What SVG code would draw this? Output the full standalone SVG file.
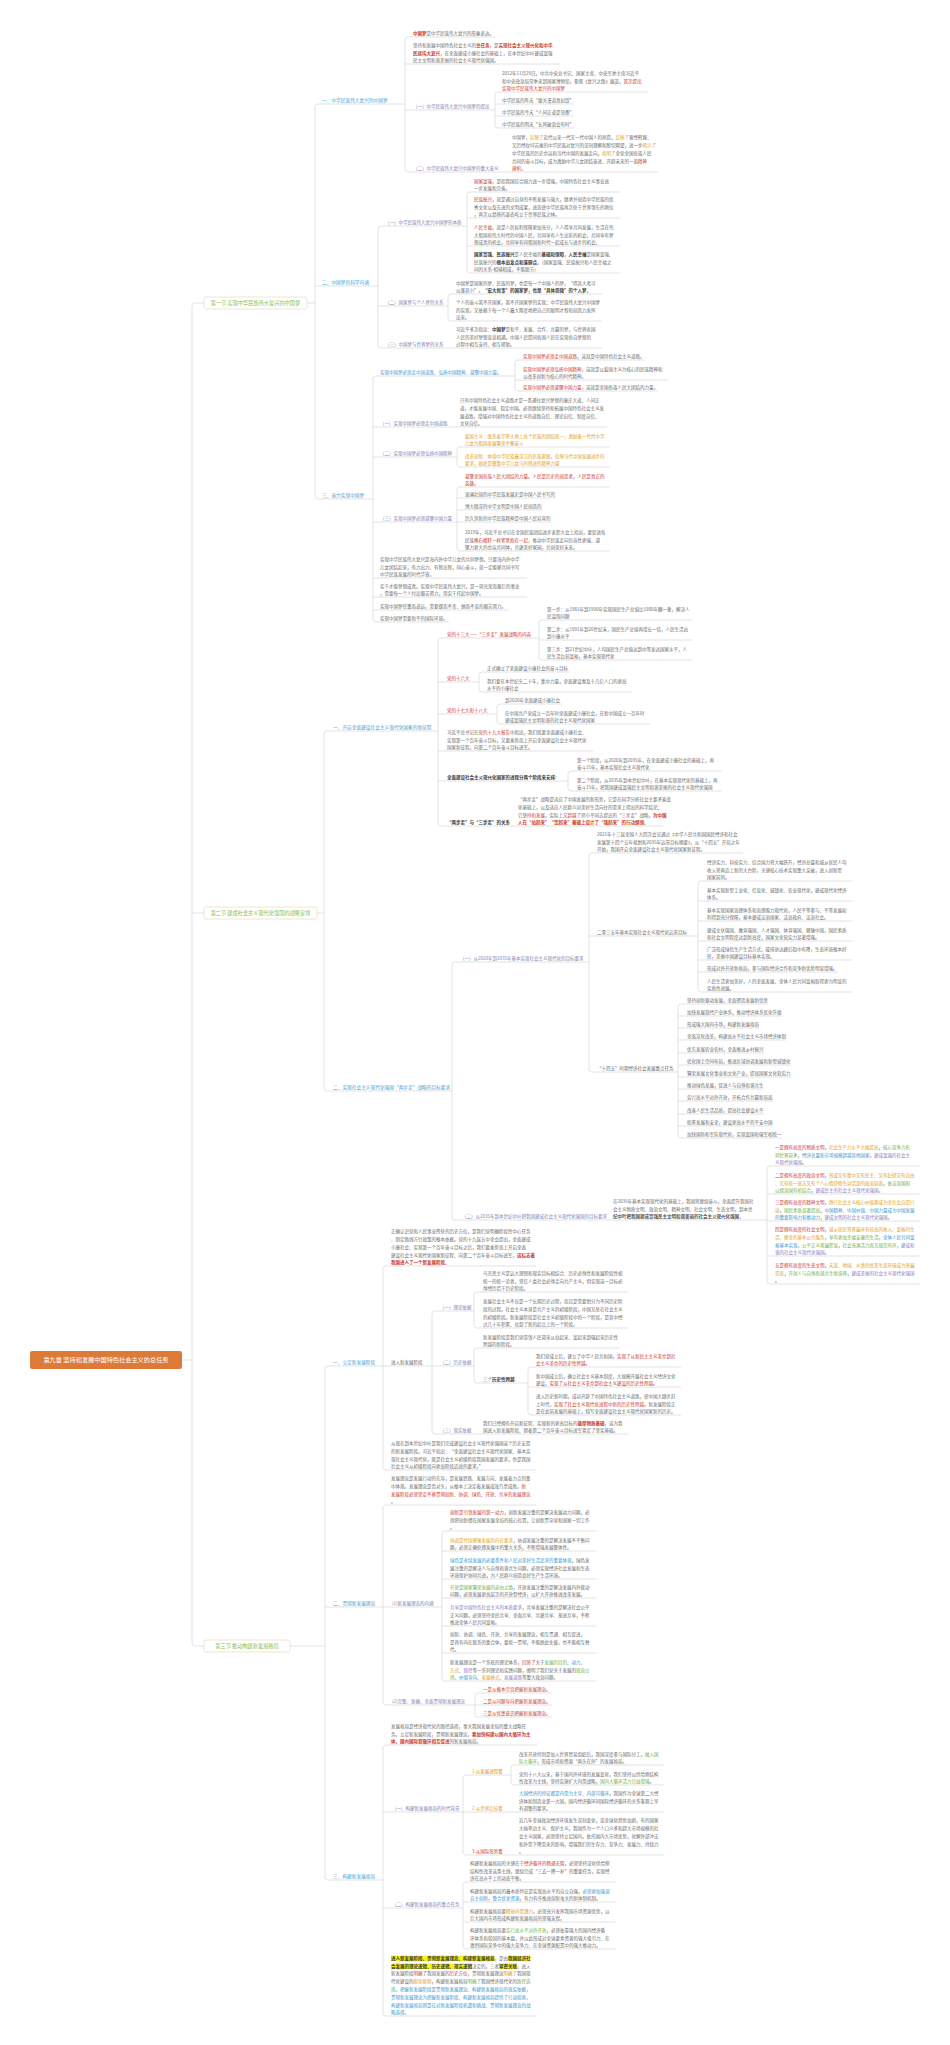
<svg xmlns="http://www.w3.org/2000/svg" width="950" height="2045" viewBox="0 0 950 2045">
<style>
text{font-family:"Noto Sans CJK SC","Noto Sans",sans-serif;font-size:4.5px;fill:#6b6b6b}
.s{fill:#3f9fd3;font-size:4.7px}
.u{fill:#7d7fb4}
.r{fill:#c9382c}
.rb{fill:#c9382c;font-weight:bold}
.b{fill:#3c3c3c;font-weight:bold}
.y{fill:#e2a01a}
.o{fill:#e98b22}
.g{fill:#6cb13f}
.bl{fill:#3598d0}
.p{fill:#8a7bbd}
.c{fill:none;stroke:#d2d2d2;stroke-width:0.6}
.box{fill:#fff;stroke:#eee0c2;stroke-width:0.8}
.bt{fill:#86bd48;font-size:5.2px}
.root{fill:#dd7a37}
.rt{fill:#fff;font-size:6.2px}
.hl{fill:#f6f21c}
</style>
<rect width="950" height="2045" fill="#fff"/>
<g id="connectors">
<path class="c" d="M182 1360H192M195 303Q192 303 192 306V1643Q192 1646 195 1646M195 303H204M192 913H204M195 1646H204"/>
<path class="c" d="M307 303H315M318 104Q315 104 315 107V496Q315 499 318 499M318 104H405M315 286H378M318 499H373"/>
<path class="c" d="M408 37Q405 37 405 40V169Q405 172 408 172M408 37H495M405 64H560M405 110H495M408 172H658"/>
<path class="c" d="M498 92Q495 92 495 95V125Q495 128 498 128M498 92H648M495 104H574M495 116H574M498 128H574"/>
<path class="c" d="M381 226Q378 226 378 229V345Q378 348 381 348M381 226H467M378 306H448M381 348H602"/>
<path class="c" d="M470 192Q467 192 467 195V270Q467 273 470 273M470 192H620M467 218H620M467 246H620M470 273H620"/>
<path class="c" d="M451 294Q448 294 448 297V318Q448 321 451 321M451 294H602M451 321H602"/>
<path class="c" d="M376 376Q373 376 373 379V619Q373 622 376 622M376 376H515M373 427H607M373 457H457M373 522H457M373 578H527M373 597H527M373 610H508M376 622H449"/>
<path class="c" d="M518 360Q515 360 515 363V388Q515 391 518 391M518 360H645M515 380H668M518 391H658"/>
<path class="c" d="M460 447Q457 447 457 450V464Q457 467 460 467M460 447H610M460 467H610"/>
<path class="c" d="M460 487Q457 487 457 490V548Q457 551 460 551M460 487H610M457 498H556M457 510H543M457 522H552M460 551H610"/>
<path class="c" d="M317 913H324M327 731Q324 731 324 734V1088Q324 1091 327 1091M327 731H438M327 1091H452"/>
<path class="c" d="M441 638Q438 638 438 641V823Q438 826 441 826M441 638H539M438 682H479M438 714H497M438 751H593M438 781H568M441 826H663"/>
<path class="c" d="M542 620Q539 620 539 623V657Q539 660 542 660M542 620H692M539 640H692M542 660H692"/>
<path class="c" d="M482 672Q479 672 479 675V689Q479 692 482 692M482 672H570M482 692H632"/>
<path class="c" d="M500 704Q497 704 497 707V721Q497 724 500 724M500 704H562M500 724H650"/>
<path class="c" d="M571 771Q568 771 568 774V788Q568 791 571 791M571 771H722M571 791H722"/>
<path class="c" d="M455 962Q452 962 452 965V1217Q452 1220 455 1220M455 962H589M455 1220H767"/>
<path class="c" d="M592 853Q589 853 589 856V1069Q589 1072 592 1072M592 853H743M589 936H698M592 1072H678"/>
<path class="c" d="M701 881Q698 881 698 884V989Q698 992 701 992M701 881H852M698 901H852M698 921H852M698 941H852M698 960H852M698 972H838M701 992H852"/>
<path class="c" d="M681 1004Q678 1004 678 1007V1135Q678 1138 681 1138M681 1004H768M678 1016H782M678 1028H759M678 1040H786M678 1053H764M678 1065H791M678 1077H791M678 1089H764M678 1101H773M678 1114H764M678 1126H773M681 1138H782"/>
<path class="c" d="M770 1166Q767 1166 767 1169V1281Q767 1284 770 1284M770 1166H920M767 1194H920M767 1221H920M767 1256H920M770 1284H920"/>
<path class="c" d="M290 1646H325M328 1366Q325 1366 325 1369V1877Q325 1880 328 1880M328 1366H383M325 1607H383M328 1880H383"/>
<path class="c" d="M386 1266Q383 1266 383 1269V1467Q383 1470 386 1470M386 1266H536M383 1366H432M386 1470H536"/>
<path class="c" d="M435 1311Q432 1311 432 1314V1431Q432 1434 435 1434M435 1311H474M432 1366H474M435 1434H628"/>
<path class="c" d="M477 1292Q474 1292 474 1295V1325Q474 1328 477 1328M477 1292H628M477 1328H628"/>
<path class="c" d="M477 1348Q474 1348 474 1351V1380Q474 1383 477 1383M477 1348H620M477 1383H528"/>
<path class="c" d="M531 1367Q528 1367 528 1370V1412Q528 1415 531 1415M531 1367H681M528 1387H681M531 1415H681"/>
<path class="c" d="M386 1505Q383 1505 383 1508V1702Q383 1705 386 1705M386 1505H536M383 1607H442M386 1705H475"/>
<path class="c" d="M445 1531Q442 1531 442 1534V1678Q442 1681 445 1681M445 1531H596M442 1551H596M442 1579H596M442 1598H596M442 1626H596M442 1653H596M445 1681H596"/>
<path class="c" d="M478 1693Q475 1693 475 1696V1714Q475 1717 478 1717M478 1693H552M475 1705H552M478 1717H552"/>
<path class="c" d="M386 1745Q383 1745 383 1748V2013Q383 2016 386 2016M386 1745H537M383 1812H463M383 1908H463M386 2016H537"/>
<path class="c" d="M466 1775Q463 1775 463 1778V1852Q463 1855 466 1855M466 1775H511M463 1812H664M466 1855H664"/>
<path class="c" d="M514 1765Q511 1765 511 1768V1782Q511 1785 514 1785M514 1765H664M514 1785H664"/>
<path class="c" d="M466 1882Q463 1882 463 1885V1946Q463 1949 466 1949M466 1882H616M463 1902H616M463 1922H616M466 1949H616"/>
</g>

<g id="root-node"><rect class="root" x="30" y="1351" width="152" height="18" rx="2"/><text class="rt" x="106" y="1362.2" text-anchor="middle">第九章  坚持和发展中国特色社会主义的总任务</text></g>
<g id="sec1-box"><rect class="box" x="204" y="297" width="103" height="12" rx="2"/><text class="bt" x="255.5" y="304.9" text-anchor="middle">第一节  实现中华民族伟大复兴的中国梦</text></g>
<g id="sec2-box"><rect class="box" x="204" y="907" width="113" height="12" rx="2"/><text class="bt" x="260.5" y="914.9" text-anchor="middle">第二节  建成社会主义现代化强国的战略安排</text></g>
<g id="sec3-box"><rect class="box" x="204" y="1640" width="86" height="12" rx="2"/><text class="bt" x="247" y="1647.9" text-anchor="middle">第三节  推动构建新发展格局</text></g>

<g id="n1"><text class="s" x="322" y="102.4">一、中华民族伟大复兴的中国梦</text></g>
<g id="n1a"><text x="413" y="35.4"><tspan class="rb">中国梦</tspan>是中华民族伟大复兴的形象表达。</text></g>
<g id="n1b"><text x="413" y="46.8"><tspan x="413">坚持和发展中国特色社会主义的<tspan class="rb">总任务</tspan>，是<tspan class="rb">实现社会主义现代化和中华</tspan></tspan><tspan x="413" dy="7.8"><tspan class="rb">民族伟大复兴</tspan>，在全面建成小康社会的基础上，在本世纪中叶建成富强</tspan><tspan x="413" dy="7.8">民主文明和谐美丽的社会主义现代化强国。</tspan></text></g>
<g id="n1c"><text class="u" x="413" y="108.4">（一）中华民族伟大复兴中国梦的提出</text></g>
<g id="n1c1"><text x="502" y="74.8"><tspan x="502">2012年11月29日，中共中央总书记、国家主席、中央军委主席习近平</tspan><tspan x="502" dy="7.8">和中央政治局常委来到国家博物馆，参观《复兴之路》展览，<tspan class="r">首次提出</tspan></tspan><tspan x="502" dy="7.8" class="r">实现中华民族伟大复兴的中国梦</tspan></text></g>
<g id="n1c2"><text x="502" y="102.4">中华民族的昨天“雄关漫道真如铁”</text></g>
<g id="n1c3"><text x="502" y="114.4">中华民族的今天“人间正道是沧桑”</text></g>
<g id="n1c4"><text x="502" y="126.4">中华民族的明天“长风破浪会有时”</text></g>
<g id="n1d"><text class="u" x="413" y="170.4">（二）中华民族伟大复兴中国梦的重大意义</text></g>
<g id="n1d1"><text x="512" y="139.2"><tspan x="512">中国梦，<tspan class="y">反映了</tspan>近代以来一代又一代中国人的夙愿，<tspan class="y">反映了</tspan>曾经辉煌、</tspan><tspan x="512" dy="7.8">又历经坎坷苦难的中华民族对复兴的深刻理解和殷切期望，进一步<tspan class="y">揭示了</tspan></tspan><tspan x="512" dy="7.8">中华民族的历史命运和当代中国的发展走向，<tspan class="y">指明了</tspan>全党全国各族人民</tspan><tspan x="512" dy="7.8">共同的奋斗目标，成为激励中华儿女团结奋进、开辟未来的一面<tspan class="r">精神</tspan></tspan><tspan x="512" dy="7.8"><tspan class="r">旗帜</tspan>。</tspan></text></g>

<g id="n2"><text class="s" x="322" y="284.4">二、中国梦的科学内涵</text></g>
<g id="n2a"><text class="u" x="385" y="224.4">（一）中华民族伟大复兴中国梦的本质</text></g>
<g id="n2a1"><text x="474" y="182.6"><tspan x="474"><tspan class="r">国家富强</tspan>，是指我国综合国力进一步增强，中国特色社会主义事业进</tspan><tspan x="474" dy="7.8">一步发展和完善。</tspan></text></g>
<g id="n2a2"><text x="474" y="200.8"><tspan x="474"><tspan class="r">民族振兴</tspan>，就是通过自身的不断发展与强大，继承并创造中华民族的优</tspan><tspan x="474" dy="7.8">秀文化以及先进的文明成果，进而使中华民族再次处于世界领先的地位</tspan><tspan x="474" dy="7.8">，再次以昂扬的姿态屹立于世界民族之林。</tspan></text></g>
<g id="n2a3"><text x="474" y="228.8"><tspan x="474"><tspan class="r">人民幸福</tspan>，就是人民权利保障更加充分，人人得享共同发展，生活在伟</tspan><tspan x="474" dy="7.8">大祖国和伟大时代的中国人民，共同享有人生出彩的机会，共同享有梦</tspan><tspan x="474" dy="7.8">想成真的机会，共同享有同祖国和时代一起成长与进步的机会。</tspan></text></g>
<g id="n2a4"><text x="474" y="255.8"><tspan x="474"><tspan class="b">国家富强、民族振兴</tspan>是人民幸福的<tspan class="b">基础和保障</tspan>，<tspan class="b">人民幸福</tspan>是国家富强、</tspan><tspan x="474" dy="7.8">民族振兴的<tspan class="b">根本出发点和落脚点</tspan>。（国家富强、民族振兴和人民幸福之</tspan><tspan x="474" dy="7.8">间的关系-相辅相成，不能脱节）</tspan></text></g>
<g id="n2b"><text class="u" x="385" y="304.4">（二）国家梦与个人梦的关系</text></g>
<g id="n2b1"><text x="456" y="284.6"><tspan x="456">中国梦是国家的梦、民族的梦，也是每一个中国人的梦，“得其大者可</tspan><tspan x="456" dy="7.8">以兼其小”。<tspan class="b">“宏大叙事”的国家梦，也是“具体而微”的个人梦。</tspan></tspan></text></g>
<g id="n2b2"><text x="456" y="303.8"><tspan x="456">个人的奋斗离不开国家，离不开国家梦的实现；中华民族伟大复兴中国梦</tspan><tspan x="456" dy="7.8">的实现，又依赖于每一个人最大限度地把自己的聪明才智和创造力发挥</tspan><tspan x="456" dy="7.8">出来。</tspan></text></g>
<g id="n2c"><text class="u" x="385" y="346.4">（三）中国梦与世界梦的关系</text></g>
<g id="n2c1"><text x="456" y="330.8"><tspan x="456">习近平多次指出：<tspan class="b">中国梦</tspan>是和平、发展、合作、共赢的梦，与世界各国</tspan><tspan x="456" dy="7.8">人民的美好梦想息息相通。中国人民愿同各国人民在实现各自梦想的</tspan><tspan x="456" dy="7.8">过程中相互支持、相互帮助。</tspan></text></g>

<g id="n3"><text class="s" x="322" y="497.4">三、奋力实现中国梦</text></g>
<g id="n3a"><text class="u" x="380" y="374.4" style="fill:#4f94c8">实现中国梦必须走中国道路、弘扬中国精神、凝聚中国力量。</text></g>
<g id="n3a1"><text x="523" y="358.4"><tspan class="r">实现中国梦必须走中国道路</tspan>，这就是中国特色社会主义道路。</text></g>
<g id="n3a2"><text x="523" y="370.6"><tspan x="523"><tspan class="r">实现中国梦必须弘扬中国精神</tspan>，这就是以爱国主义为核心的民族精神和</tspan><tspan x="523" dy="7.8">以改革创新为核心的时代精神。</tspan></text></g>
<g id="n3a3"><text x="523" y="389.4"><tspan class="r">实现中国梦必须凝聚中国力量</tspan>，这就是全国各族人民大团结的力量。</text></g>
<g id="n3b"><text class="u" x="380" y="425.4">（一）实现中国梦必须走中国道路</text></g>
<g id="n3b1"><text x="460" y="402"><tspan x="460">只有中国特色社会主义道路才是一条通往复兴梦想的康庄大道、人间正</tspan><tspan x="460" dy="7.8">道，才能发展中国、稳定中国。必须继续坚持和拓展中国特色社会主义发</tspan><tspan x="460" dy="7.8">展道路，增强对中国特色社会主义的道路自信、理论自信、制度自信、</tspan><tspan x="460" dy="7.8">文化自信。</tspan></text></g>
<g id="n3c"><text class="u" x="380" y="455.4">（二）实现中国梦必须弘扬中国精神</text></g>
<g id="n3c1"><text class="y" x="465" y="437.6"><tspan x="465">爱国主义：维系着华夏大地上各个民族的团结统一，激励着一代代中华</tspan><tspan x="465" dy="7.8">儿女为祖国发展繁荣不懈奋斗</tspan></text></g>
<g id="n3c2"><text class="y" x="465" y="457.6"><tspan x="465">改革创新：体现中华民族最深沉的民族禀赋，反映当代中国发展进步的</tspan><tspan x="465" dy="7.8">要求，始终是鞭策中华儿女与时俱进的精神力量</tspan></text></g>
<g id="n3d"><text class="u" x="380" y="520.4">（三）实现中国梦必须凝聚中国力量</text></g>
<g id="n3d1"><text class="r" x="465" y="477.6"><tspan x="465">凝聚全国各族人民大团结的力量。人民是历史的创造者，人民是真正的</tspan><tspan x="465" dy="7.8">英雄。</tspan></text></g>
<g id="n3d2"><text x="465" y="496.4">波澜壮阔的中华民族发展史是中国人民书写的</text></g>
<g id="n3d3"><text x="465" y="508.4">博大精深的中华文明是中国人民创造的</text></g>
<g id="n3d4"><text x="465" y="520.4">历久弥新的中华民族精神是中国人民培育的</text></g>
<g id="n3d5"><text x="465" y="533.8"><tspan x="465">2019年，习近平总书记在全国民族团结进步表彰大会上指出，要促进各</tspan><tspan x="465" dy="7.8">民族<tspan class="r">像石榴籽一样紧紧抱在一起</tspan>，推动中华民族走向包容性更强、凝</tspan><tspan x="465" dy="7.8">聚力更大的命运共同体，共建美好家园，共创美好未来。</tspan></text></g>
<g id="n3e"><text x="380" y="560.8"><tspan x="380">实现中华民族伟大复兴是海内外中华儿女的共同梦想。只要海内外中华</tspan><tspan x="380" dy="7.8">儿女团结起来，有力出力、有智出智，同心奋斗，就一定能够共同书写</tspan><tspan x="380" dy="7.8">中华民族发展的时代华章。</tspan></text></g>
<g id="n3f"><text x="380" y="587.6"><tspan x="380">实干才能梦想成真。实现中华民族伟大复兴，是一项光荣而艰巨的事业</tspan><tspan x="380" dy="7.8">，需要每一个人付出艰苦努力，用实干托起中国梦。</tspan></text></g>
<g id="n3g"><text x="380" y="608.4">实现中国梦任重而道远，需要锲而不舍、驰而不息的艰苦努力。</text></g>
<g id="n3h"><text x="380" y="620.4">实现中国梦需要和平的国际环境。</text></g>

<g id="n4"><text class="s" x="333" y="729.4">一、开启全面建设社会主义现代化国家的新征程</text></g>
<g id="n4a"><text class="r" x="447" y="636.4">党的十三大——“三步走”发展战略的内容</text></g>
<g id="n4a1"><text x="547" y="610.6"><tspan x="547">第一步：从1981年到1990年实现国民生产总值比1980年翻一番，解决人</tspan><tspan x="547" dy="7.8">民温饱问题</tspan></text></g>
<g id="n4a2"><text x="547" y="630.6"><tspan x="547">第二步：从1991年到20世纪末，国民生产总值再增长一倍，人民生活达</tspan><tspan x="547" dy="7.8">到小康水平</tspan></text></g>
<g id="n4a3"><text x="547" y="650.6"><tspan x="547">第三步：到21世纪中叶，人均国民生产总值达到中等发达国家水平，人</tspan><tspan x="547" dy="7.8">民生活比较富裕，基本实现现代化</tspan></text></g>
<g id="n4b"><text class="r" x="447" y="680.4">党的十六大</text></g>
<g id="n4b1"><text x="487" y="670.4">正式确立了全面建设小康社会的奋斗目标</text></g>
<g id="n4b2"><text x="487" y="682.6"><tspan x="487">我们要在本世纪头二十年，集中力量，全面建设惠及十几亿人口的更高</tspan><tspan x="487" dy="7.8">水平的小康社会</tspan></text></g>
<g id="n4c"><text class="r" x="447" y="712.4">党的十七大和十八大</text></g>
<g id="n4c1"><text x="505" y="702.4">到2020年全面建成小康社会</text></g>
<g id="n4c2"><text x="505" y="714.6"><tspan x="505">在中国共产党成立一百年时全面建成小康社会，在新中国成立一百年时</tspan><tspan x="505" dy="7.8">建成富强民主文明和谐的社会主义现代化国家</tspan></text></g>
<g id="n4d"><text x="447" y="733.8"><tspan x="447">习近平总书记在<tspan class="r">党的十九大报告</tspan>中指出，我们既要全面建成小康社会、</tspan><tspan x="447" dy="7.8">实现第一个百年奋斗目标，又要乘势而上开启全面建设社会主义现代化</tspan><tspan x="447" dy="7.8">国家新征程，向第二个百年奋斗目标进军。</tspan></text></g>
<g id="n4e"><text class="b" x="447" y="779.4">全面建设社会主义现代化国家的进程分两个阶段来安排:</text></g>
<g id="n4e1"><text x="577" y="761.6"><tspan x="577">第一个阶段，从2020年到2035年，在全面建成小康社会的基础上，再</tspan><tspan x="577" dy="7.8">奋斗15年，基本实现社会主义现代化</tspan></text></g>
<g id="n4e2"><text x="577" y="781.6"><tspan x="577">第二个阶段，从2035年到本世纪中叶，在基本实现现代化的基础上，再</tspan><tspan x="577" dy="7.8">奋斗15年，把我国建成富强民主文明和谐美丽的社会主义现代化强国</tspan></text></g>
<g id="n4f"><text class="b" x="447" y="824.4">“两步走”与“三步走”的关系</text></g>
<g id="n4f1"><text x="518" y="801"><tspan x="518">“两步走”战略是适应了中国发展的新形势，它是在科学分析社会主要矛盾变</tspan><tspan x="518" dy="7.8">化基础上，以及适应人民群众对美好生活向往的需求上得出的科学结论；</tspan><tspan x="518" dy="7.8">它<tspan class="r">坚持和发展</tspan>，实际上又<tspan class="r">超越</tspan>了邓小平同志提出的“三步走”战略，<tspan class="rb">为中国</tspan></tspan><tspan x="518" dy="7.8" class="rb">人在“站起来”“富起来”基础上设计了“强起来”的行动纲领。</tspan></text></g>

<g id="n5"><text class="s" x="333" y="1089.4">二、实现社会主义现代化强国“两步走”战略的目标要求</text></g>
<g id="n5a"><text class="u" x="460" y="960.4">（一）从2020年到2035年基本实现社会主义现代化的目标要求</text></g>
<g id="n5a1"><text x="597" y="835.8"><tspan x="597">2021年十三届全国人大四次会议通过《中华人民共和国国民经济和社会</tspan><tspan x="597" dy="7.8">发展第十四个五年规划和2035年远景目标纲要》，从“十四五”开局之年</tspan><tspan x="597" dy="7.8">开始，我国开启全面建设社会主义现代化国家新征程。</tspan></text></g>
<g id="n5a2"><text x="597" y="934.4">二零三五年基本实现社会主义现代化远景目标</text></g>
<g id="n5a2-1"><text x="707" y="863.8"><tspan x="707">经济实力、科技实力、综合国力将大幅跃升，经济总量和城乡居民人均</tspan><tspan x="707" dy="7.8">收入将再迈上新的大台阶，关键核心技术实现重大突破，进入创新型</tspan><tspan x="707" dy="7.8">国家前列。</tspan></text></g>
<g id="n5a2-2"><text x="707" y="891.6"><tspan x="707">基本实现新型工业化、信息化、城镇化、农业现代化，建成现代化经济</tspan><tspan x="707" dy="7.8">体系。</tspan></text></g>
<g id="n5a2-3"><text x="707" y="911.6"><tspan x="707">基本实现国家治理体系和治理能力现代化，人民平等参与、平等发展权</tspan><tspan x="707" dy="7.8">利得到充分保障，基本建成法治国家、法治政府、法治社会。</tspan></text></g>
<g id="n5a2-4"><text x="707" y="931.6"><tspan x="707">建成文化强国、教育强国、人才强国、体育强国、健康中国，国民素质</tspan><tspan x="707" dy="7.8">和社会文明程度达到新高度，国家文化软实力显著增强。</tspan></text></g>
<g id="n5a2-5"><text x="707" y="950.6"><tspan x="707">广泛形成绿色生产生活方式，碳排放达峰后稳中有降，生态环境根本好</tspan><tspan x="707" dy="7.8">转，美丽中国建设目标基本实现。</tspan></text></g>
<g id="n5a2-6"><text x="707" y="970.4">形成对外开放新格局，参与国际经济合作和竞争新优势明显增强。</text></g>
<g id="n5a2-7"><text x="707" y="982.6"><tspan x="707">人民生活更加美好，人的全面发展、全体人民共同富裕取得更为明显的</tspan><tspan x="707" dy="7.8">实质性进展。</tspan></text></g>
<g id="n5a3"><text x="597" y="1070.4">“十四五”时期经济社会发展重点任务</text></g>
<g id="n5a3-items">
<text x="687" y="1002.4">坚持创新驱动发展，全面塑造发展新优势</text>
<text x="687" y="1014.4">加快发展现代产业体系，推动经济体系优化升级</text>
<text x="687" y="1026.4">形成强大国内市场，构建新发展格局</text>
<text x="687" y="1038.4">全面深化改革，构建高水平社会主义市场经济体制</text>
<text x="687" y="1051.4">优先发展农业农村，全面推进乡村振兴</text>
<text x="687" y="1063.4">优化国土空间布局，推进区域协调发展和新型城镇化</text>
<text x="687" y="1075.4">繁荣发展文化事业和文化产业，提高国家文化软实力</text>
<text x="687" y="1087.4">推动绿色发展，促进人与自然和谐共生</text>
<text x="687" y="1099.4">实行高水平对外开放，开拓合作共赢新局面</text>
<text x="687" y="1112.4">改善人民生活品质，提高社会建设水平</text>
<text x="687" y="1124.4">统筹发展和安全，建设更高水平的平安中国</text>
<text x="687" y="1136.4">加快国防和军队现代化，实现富国和强军相统一</text>
</g>
<g id="n5b"><text class="u" x="462" y="1218.4">（二）从2035年到本世纪中叶把我国建成社会主义现代化强国的目标要求</text></g>
<g id="n5b1"><text x="613" y="1202.8"><tspan x="613">在2035年基本实现现代化的基础上，我国将继续奋斗，全面提升我国社</tspan><tspan x="613" dy="7.8">会主义物质文明、政治文明、精神文明、社会文明、生态文明，到本世</tspan><tspan x="613" dy="7.8" class="b" style="font-weight:600;fill:#555">纪中叶把我国建成富强民主文明和谐美丽的社会主义现代化强国。</tspan></text></g>
<g id="n5b1-1"><text x="775" y="1148.8"><tspan x="775"><tspan class="r">一是拥有高度的物质文明</tspan>，<tspan class="y">社会生产力水平大幅提高</tspan>，<tspan class="g">核心竞争力名</tspan></tspan><tspan x="775" dy="7.8"><tspan class="g">列世界前茅</tspan>，<tspan class="bl">经济总量和市场规模超越其他国家</tspan>，<tspan class="p">建成富强的社会主</tspan></tspan><tspan x="775" dy="7.8"><tspan class="p">义现代化强国</tspan>。</tspan></text></g>
<g id="n5b1-2"><text x="775" y="1176.8"><tspan x="775"><tspan class="r">二是拥有高度的政治文明</tspan>，<tspan class="y">形成又有集中又有民主、又有纪律又有自由</tspan></tspan><tspan x="775" dy="7.8"><tspan class="y">、又有统一意志又有个人心情舒畅生动活泼的政治局面</tspan>，<tspan class="g">依法治国和</tspan></tspan><tspan x="775" dy="7.8"><tspan class="g">以德治国有机结合</tspan>，<tspan class="p">建成民主的社会主义现代化强国</tspan>。</tspan></text></g>
<g id="n5b1-3"><text x="775" y="1203.8"><tspan x="775"><tspan class="r">三是拥有高度的精神文明</tspan>，<tspan class="y">践行社会主义核心价值观成为全社会自觉行</tspan></tspan><tspan x="775" dy="7.8"><tspan class="y">动</tspan>，<tspan class="g">国民素质显著提高</tspan>，<tspan class="bl">中国精神、中国价值、中国力量成为中国发展</tspan></tspan><tspan x="775" dy="7.8"><tspan class="bl">的重要影响力和推动力</tspan>，<tspan class="p">建成文明的社会主义现代化强国</tspan>。</tspan></text></g>
<g id="n5b1-4"><text x="775" y="1231"><tspan x="775"><tspan class="r">四是拥有高度的社会文明</tspan>，<tspan class="y">城乡居民将普遍享有较高的收入、富裕的生</tspan></tspan><tspan x="775" dy="7.8"><tspan class="y">活、健全的基本公共服务</tspan>，<tspan class="g">享有更加幸福安康的生活</tspan>，<tspan class="bl">全体人民共同富</tspan></tspan><tspan x="775" dy="7.8"><tspan class="bl">裕基本实现</tspan>，<tspan class="g">公平正义普遍彰显</tspan>，<tspan class="g">社会充满活力而又规范有序</tspan>，<tspan class="p">建成和</tspan></tspan><tspan x="775" dy="7.8"><tspan class="p">谐的社会主义现代化强国</tspan>。</tspan></text></g>
<g id="n5b1-5"><text x="775" y="1266.8"><tspan x="775"><tspan class="r">五是拥有高度的生态文明</tspan>，<tspan class="y">天蓝、地绿、水清的优美生态环境成为普遍</tspan></tspan><tspan x="775" dy="7.8"><tspan class="y">常态</tspan>，<tspan class="g">开创人与自然和谐共生新境界</tspan>，<tspan class="p">建成美丽的社会主义现代化强国</tspan></tspan><tspan x="775" dy="7.8">。</tspan></text></g>

<g id="n6"><text class="s" x="333" y="1364.4">一、立足新发展阶段</text></g>
<g id="n6a"><text x="391" y="1233.2"><tspan x="391">正确认识党和人民事业所处的历史方位，是我们党明确阶段性中心任务</tspan><tspan x="391" dy="7.8">、制定路线方针政策的根本依据。党的十九届五中全会提出，全面建成</tspan><tspan x="391" dy="7.8">小康社会、实现第一个百年奋斗目标之后，我们要乘势而上开启全面</tspan><tspan x="391" dy="7.8">建设社会主义现代化国家新征程、向第二个百年奋斗目标进军，<tspan class="rb">这标志着</tspan></tspan><tspan x="391" dy="7.8" class="rb">我国进入了一个新发展阶段。</tspan></text></g>
<g id="n6b"><text x="391" y="1364.4">进入新发展阶段</text></g>
<g id="n6b1"><text class="u" x="440" y="1309.4">（一）理论依据</text></g>
<g id="n6b1-1"><text x="483" y="1274.8"><tspan x="483">马克思主义是远大理想和现实目标相结合、历史必然性和发展阶段性相</tspan><tspan x="483" dy="7.8">统一的统一论者，坚信人类社会必然走向共产主义，但实现这一目标必</tspan><tspan x="483" dy="7.8">然经历若干历史阶段。</tspan></text></g>
<g id="n6b1-2"><text x="483" y="1303"><tspan x="483">发展社会主义不仅是一个长期历史过程，而且是需要划分为不同历史阶</tspan><tspan x="483" dy="7.8">段的过程。社会主义本身是共产主义的初级阶段，中国又处在社会主义</tspan><tspan x="483" dy="7.8">的初级阶段。新发展阶段是社会主义初级阶段中的一个阶段，是其中经</tspan><tspan x="483" dy="7.8">过几十年积累、站到了新的起点上的一个阶段。</tspan></text></g>
<g id="n6b2"><text class="u" x="440" y="1364.4">（二）历史依据</text></g>
<g id="n6b2-1"><text x="483" y="1338.6"><tspan x="483">新发展阶段是我们党带领人民迎来从站起来、富起来到强起来历史性</tspan><tspan x="483" dy="7.8">跨越的新阶段。</tspan></text></g>
<g id="n6b2-2"><text x="483" y="1381.4">三个<tspan class="b">历史性跨越</tspan>:</text></g>
<g id="n6b2-2a"><text x="536" y="1357.6"><tspan x="536">我们党成立后，建立了中华人民共和国，<tspan class="r">实现了从新民主主义革命到社</tspan></tspan><tspan x="536" dy="7.8" class="r">会主义革命的历史性跨越。</tspan></text></g>
<g id="n6b2-2b"><text x="536" y="1377.6"><tspan x="536">新中国成立后，确立社会主义基本制度，大规模开展社会主义经济文化</tspan><tspan x="536" dy="7.8">建设，<tspan class="r">实现了从社会主义革命到社会主义建设的历史性跨越。</tspan></tspan></text></g>
<g id="n6b2-2c"><text x="536" y="1397.8"><tspan x="536">进入历史新时期，成功开辟了中国特色社会主义道路，使中国大踏步赶</tspan><tspan x="536" dy="7.8">上时代，<tspan class="r">实现了社会主义现代化进程中新的历史性跨越。</tspan>新发展阶段正</tspan><tspan x="536" dy="7.8">是在此前发展的基础上，续写全面建设社会主义现代化国家新的历史。</tspan></text></g>
<g id="n6b3"><text class="u" x="440" y="1432.4">（三）现实依据</text></g>
<g id="n6b3-1"><text x="483" y="1424.6"><tspan x="483">我们已经拥有开启新征程、实现新的更高目标的<tspan class="rb">雄厚物质基础</tspan>，这为我</tspan><tspan x="483" dy="7.8">国进入新发展阶段、朝着第二个百年奋斗目标进军奠定了坚实基础。</tspan></text></g>
<g id="n6c"><text x="391" y="1445"><tspan x="391">从现在到本世纪中叶是我们完成建设社会主义现代化强国这个历史宏愿</tspan><tspan x="391" dy="7.8">的新发展阶段。习近平指出：“全面建设社会主义现代化国家、基本实</tspan><tspan x="391" dy="7.8">现社会主义现代化，既是社会主义初级阶段我国发展的要求，也是我国</tspan><tspan x="391" dy="7.8">社会主义从初级阶段向更高阶段迈进的要求。”</tspan></text></g>

<g id="n7"><text class="s" x="333" y="1605.4">二、贯彻新发展理念</text></g>
<g id="n7a"><text x="391" y="1480"><tspan x="391">发展理念是发展行动的先导，是发展思路、发展方向、发展着力点的集</tspan><tspan x="391" dy="7.8">中体现。发展理念是否对头，从根本上决定着发展成效乃至成败。<tspan class="r">新</tspan></tspan><tspan x="391" dy="7.8" class="r">发展阶段必须坚定不移贯彻创新、协调、绿色、开放、共享的发展理念</tspan><tspan x="391" dy="7.8">。</tspan></text></g>
<g id="n7b"><text class="u" x="392" y="1605.4">(1)新发展理念的内涵</text></g>
<g id="n7b1"><text x="450" y="1513.8"><tspan x="450"><tspan class="r">创新是引领发展的第一动力</tspan>，创新发展注重的是解决发展动力问题，必</tspan><tspan x="450" dy="7.8">须把创新摆在国家发展全局的核心位置，让创新贯穿党和国家一切工作</tspan><tspan x="450" dy="7.8">。</tspan></text></g>
<g id="n7b2"><text x="450" y="1541.6"><tspan x="450"><tspan class="y">协调是持续健康发展的内在要求</tspan>，协调发展注重的是解决发展不平衡问</tspan><tspan x="450" dy="7.8">题，必须正确处理发展中的重大关系，不断增强发展整体性。</tspan></text></g>
<g id="n7b3"><text x="450" y="1561.8"><tspan x="450"><tspan class="bl">绿色是永续发展的必要条件和人民对美好生活追求的重要体现</tspan>，绿色发</tspan><tspan x="450" dy="7.8">展注重的是解决人与自然和谐共生问题，必须实现经济社会发展和生态</tspan><tspan x="450" dy="7.8">环境保护协同共进，为人民群众创造良好生产生活环境。</tspan></text></g>
<g id="n7b4"><text x="450" y="1588.6"><tspan x="450"><tspan class="g">开放是国家繁荣发展的必由之路</tspan>，开放发展注重的是解决发展内外联动</tspan><tspan x="450" dy="7.8">问题，必须发展更高层次的开放型经济，以扩大开放推进改革发展。</tspan></text></g>
<g id="n7b5"><text x="450" y="1608.8"><tspan x="450"><tspan class="p">共享是中国特色社会主义的本质要求</tspan>，共享发展注重的是解决社会公平</tspan><tspan x="450" dy="7.8">正义问题，必须坚持全民共享、全面共享、共建共享、渐进共享，不断</tspan><tspan x="450" dy="7.8">推进全体人民共同富裕。</tspan></text></g>
<g id="n7b6"><text x="450" y="1635.8"><tspan x="450">创新、协调、绿色、开放、共享的发展理念，相互贯通、相互促进，</tspan><tspan x="450" dy="7.8">是具有内在联系的集合体，要统一贯彻，不能顾此失彼，也不能相互替</tspan><tspan x="450" dy="7.8">代。</tspan></text></g>
<g id="n7b7"><text x="450" y="1663.8"><tspan x="450">新发展理念是一个系统的理论体系，<tspan class="r">回答了</tspan>关于<tspan class="g">发展的目的</tspan>、<tspan class="bl">动力</tspan>、</tspan><tspan x="450" dy="7.8"><tspan class="y">方式</tspan>、<tspan class="p">路径</tspan>等一系列理论和实践问题，阐明了我们党关于发展的<tspan class="g">政治立</tspan></tspan><tspan x="450" dy="7.8"><tspan class="g">场</tspan>、<tspan class="bl">价值导向</tspan>、<tspan class="y">发展模式</tspan>、<tspan class="p">发展道路</tspan>等重大政治问题。</tspan></text></g>
<g id="n7c"><text class="u" x="392" y="1703.4">(2)完整、准确、全面贯彻新发展理念</text></g>
<g id="n7c1"><text class="r" x="483" y="1691.4">一是从根本宗旨把握新发展理念。</text></g>
<g id="n7c2"><text class="r" x="483" y="1703.4">二是从问题导向把握新发展理念。</text></g>
<g id="n7c3"><text class="r" x="483" y="1715.4">三是从忧患意识把握新发展理念。</text></g>

<g id="n8"><text class="s" x="333" y="1878.4">三、构建新发展格局</text></g>
<g id="n8a"><text x="391" y="1727.8"><tspan x="391">发展格局是经济现代化的路径选择，事关我国发展全局的重大战略任</tspan><tspan x="391" dy="7.8">务。立足新发展阶段，贯彻新发展理念，<tspan class="rb">要加快构建以国内大循环为主</tspan></tspan><tspan x="391" dy="7.8"><tspan class="rb">体、国内国际双循环相互促进</tspan>的新发展格局。</tspan></text></g>
<g id="n8b"><text class="u" x="392" y="1810.4">（一）构建新发展格局的时代背景</text></g>
<g id="n8b1"><text class="o" x="472" y="1773.4">1.从发展进程看</text></g>
<g id="n8b1-1"><text x="519" y="1755.6"><tspan x="519">改革开放特别是加入世界贸易组织后，我国深度参与国际分工，<tspan class="g">融入国</tspan></tspan><tspan x="519" dy="7.8"><tspan class="g">际大循环</tspan>，形成市场和资源“两头在外”的发展格局。</tspan></text></g>
<g id="n8b1-2"><text x="519" y="1775.6"><tspan x="519">党的十八大以来，基于国内外环境的发展变化，我们坚持以供给侧结构</tspan><tspan x="519" dy="7.8">性改革为主线，坚持实施扩大内需战略，<tspan class="g">国内大循环活力日益增强</tspan>。</tspan></text></g>
<g id="n8b2"><text class="y" x="472" y="1810.4">2.从世界比较看</text></g>
<g id="n8b2-1"><text x="519" y="1794.8"><tspan x="519"><tspan class="bl">大国经济的特征都是内需为主导、内部可循环</tspan>。我国作为全球第二大经</tspan><tspan x="519" dy="7.8">济体和制造业第一大国，国内经济循环同国际经济循环的关系客观上早</tspan><tspan x="519" dy="7.8">有调整的要求。</tspan></text></g>
<g id="n8b3"><text class="r" x="472" y="1853.4">3.从国际形势看</text></g>
<g id="n8b3-1"><text x="519" y="1822.2"><tspan x="519">近几年全球政治经济环境发生深刻变化，逆全球化趋势加剧，有的国家</tspan><tspan x="519" dy="7.8">大搞单边主义、保护主义，我国作为一个人口众多和超大市场规模的社</tspan><tspan x="519" dy="7.8">会主义国家，必须坚持立足国内，依托国内大市场优势，化解外部冲击</tspan><tspan x="519" dy="7.8">和外需下降带来的影响，增强我们的生存力、竞争力、发展力、持续力</tspan><tspan x="519" dy="7.8">。</tspan></text></g>
<g id="n8c"><text class="u" x="392" y="1906.4">（二）构建新发展格局的重点任务</text></g>
<g id="n8c1"><text x="470" y="1864.8"><tspan x="470">构建新发展格局的关键在于<tspan class="r">经济循环的畅通无阻</tspan>，必须坚持深化供给侧</tspan><tspan x="470" dy="7.8">结构性改革这条主线，继续完成“三去一降一补”的重要任务，实现经</tspan><tspan x="470" dy="7.8">济在高水平上的动态平衡。</tspan></text></g>
<g id="n8c2"><text x="470" y="1892.6"><tspan x="470">构建新发展格局的最本质特征是实现高水平的自立自强，<tspan class="bl">必须更加强调</tspan></tspan><tspan x="470" dy="7.8"><tspan class="bl">自主创新</tspan>，<tspan class="bl">整合优化资源</tspan>，有力有序推进创新攻关的新体制机制。</tspan></text></g>
<g id="n8c3"><text x="470" y="1912.6"><tspan x="470">构建新发展格局要<tspan class="o">释放内需潜力</tspan>，必须充分发挥我国市场资源优势，以</tspan><tspan x="470" dy="7.8">巨大国内市场形成构建新发展格局的坚强支撑。</tspan></text></g>
<g id="n8c4"><text x="470" y="1931.8"><tspan x="470">构建新发展格局要<tspan class="g">实行高水平对外开放</tspan>，必须依靠强大的国内经济循</tspan><tspan x="470" dy="7.8">环体系和稳固的基本盘，并以此形成对全球要素资源的强大吸引力、在</tspan><tspan x="470" dy="7.8">激烈国际竞争中的强大竞争力、在全球资源配置中的强大推动力。</tspan></text></g>
<g id="n8d">
<rect class="hl" x="391" y="1955.6" width="103.5" height="5.6"/>
<rect class="hl" x="508" y="1955.6" width="22.5" height="5.6"/>
<rect class="hl" x="391" y="1963.4" width="81" height="5.6"/>
<rect class="hl" x="499" y="1963.4" width="18" height="5.6"/>
<text x="391" y="1959.8"><tspan x="391"><tspan class="b">进入新发展阶段、贯彻新发展理念、构建新发展格局</tspan>，是由<tspan class="b">我国经济社</tspan></tspan><tspan x="391" dy="7.8"><tspan class="b">会发展的理论逻辑、历史逻辑、现实逻辑</tspan>决定的，三者<tspan class="b">紧密关联</tspan>。进入</tspan><tspan x="391" dy="7.8">新发展阶段<tspan class="r">明确了</tspan>我国发展的<tspan class="r">历史方位</tspan>，贯彻新发展理念<tspan class="o">明确了</tspan>我国现</tspan><tspan x="391" dy="7.8">代化建设的<tspan class="o">指导原则</tspan>，构建新发展格局<tspan class="g">明确了</tspan>我国经济现代化的<tspan class="g">路径选</tspan></tspan><tspan x="391" dy="7.8"><tspan class="g">择</tspan><tspan class="bl">。把握新发展阶段是贯彻新发展理念、构建新发展格局的现实依据，</tspan></tspan><tspan x="391" dy="7.8" class="bl">贯彻新发展理念为把握新发展阶段、构建新发展格局提供了行动指南，</tspan><tspan x="391" dy="7.8" class="bl">构建新发展格局则是应对新发展阶段机遇和挑战、贯彻新发展理念的战</tspan><tspan x="391" dy="7.8" class="bl">略选择。</tspan></text>
</g>
</svg>
